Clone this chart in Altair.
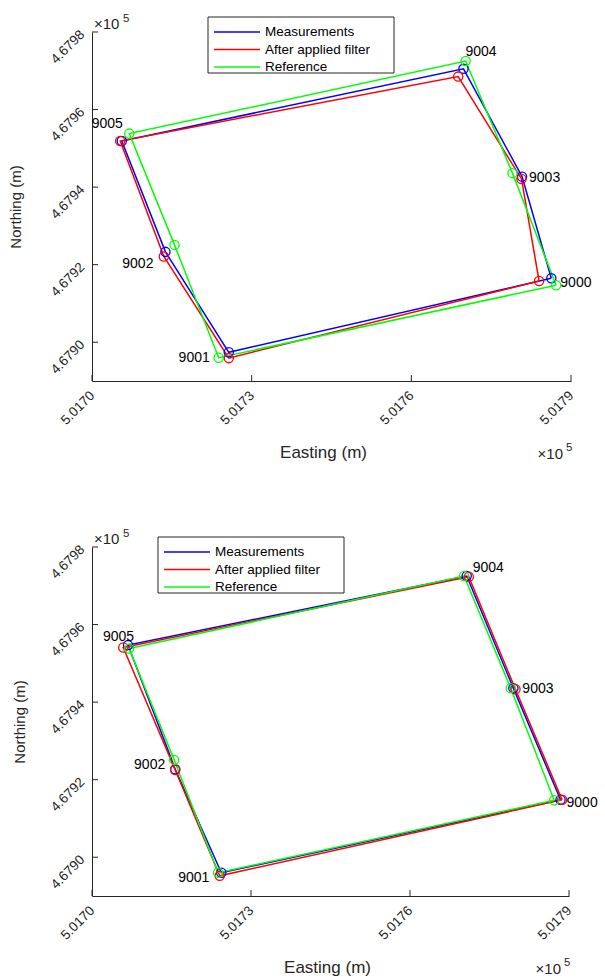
import altair as alt
import pandas as pd

# ---------------- data ----------------
STATIONS = ["9000", "9001", "9002", "9003", "9004", "9005"]
PATH = ["9000", "9001", "9002", "9005", "9004", "9003", "9000"]
SERIES = ["Measurements", "After applied filter", "Reference"]
COLORS = ["#0000ff", "#ff0000", "#00ff00"]

X_TICKS = [501700, 501730, 501760, 501790]
Y_TICKS = [467900, 467920, 467940, 467960, 467980]
X_DOMAIN = [501700, 501790]
Y_DOMAIN = [467890, 467980]

# reference coordinates (same in both panels)
ref_e = [501787.2, 501723.8, 501715.5, 501779.0, 501770.2, 501707.0]
ref_n = [467914.7, 467896.0, 467925.1, 467943.6, 467972.5, 467953.8]

# panel 1
p1_meas_e = [501786.3, 501725.7, 501713.8, 501780.8, 501769.8, 501705.6]
p1_meas_n = [467916.5, 467897.4, 467923.3, 467942.7, 467970.5, 467951.9]
p1_filt_e = [501784.0, 501725.7, 501713.5, 501780.7, 501768.8, 501705.3]
p1_filt_n = [467915.8, 467895.9, 467922.1, 467942.1, 467968.5, 467951.9]

# panel 2
p2_meas_e = [501788.4, 501724.4, 501715.7, 501779.5, 501770.7, 501706.8]
p2_meas_n = [467914.8, 467896.0, 467922.7, 467943.6, 467972.5, 467954.7]
p2_filt_e = [501788.7, 501724.1, 501715.7, 501779.9, 501771.1, 501705.9]
p2_filt_n = [467914.8, 467895.2, 467922.5, 467943.3, 467972.3, 467954.1]

# ---------------- styling ----------------
FONT = "Liberation Sans"
INK = "#262626"
LEGEND_W, LEGEND_H = 186, 56

# label placement (align, dx, dy) relative to the measured point
LABEL_PLACE_1 = {
    "9000": ("left", 9, 5), "9001": ("right", -19, 6), "9002": ("right", -12, 12),
    "9003": ("left", 7, 1), "9004": ("left", 2, -17), "9005": ("right", 1, -17),
}
LABEL_PLACE_2 = {
    "9000": ("left", 6, 3), "9001": ("right", -12, 5), "9002": ("right", -10, -4),
    "9003": ("left", 9, 1), "9004": ("left", 6, -8), "9005": ("right", 6, -8),
}


def build_table(meas_e, meas_n, filt_e, filt_n):
    rows = []
    for name, es, ns in [
        (SERIES[0], meas_e, meas_n),
        (SERIES[1], filt_e, filt_n),
        (SERIES[2], ref_e, ref_n),
    ]:
        lookup = dict(zip(STATIONS, zip(es, ns)))
        for i, st in enumerate(PATH):
            e, n = lookup[st]
            rows.append({"series": name, "station": st, "order": i, "E": e, "N": n})
    return pd.DataFrame(rows)


def panel(df, places, W, H, legend_x, legend_y, ytitle_pad, xtitle_x):
    xs = alt.Scale(domain=X_DOMAIN, nice=False, zero=False)
    ys = alt.Scale(domain=Y_DOMAIN, nice=False, zero=False)
    cs = alt.Scale(domain=SERIES, range=COLORS)

    X = alt.X("E:Q", scale=xs, axis=alt.Axis(
        values=X_TICKS, labelExpr="format(datum.value / 100000, '.4f')",
        labelAngle=-45, labelAlign="right", labelBaseline="middle",
        labelPadding=12, ticks=False, grid=False, title="Easting (m)",
        titleX=xtitle_x, titleY=71, titleBaseline="middle",
        labelFontSize=13.5, titleFontSize=17,
        titleFontWeight="normal", domainColor=INK, labelColor=INK,
        titleColor=INK, labelFont=FONT, titleFont=FONT))
    Y = alt.Y("N:Q", scale=ys, axis=alt.Axis(
        values=Y_TICKS, labelExpr="format(datum.value / 100000, '.4f')",
        labelAngle=-45, labelAlign="right", labelBaseline="middle",
        labelPadding=10, ticks=False, grid=False, title="Northing (m)",
        titlePadding=ytitle_pad, labelFontSize=13.5, titleFontSize=15,
        titleFontWeight="normal", domainColor=INK, labelColor=INK,
        titleColor=INK, labelFont=FONT, titleFont=FONT))

    base = alt.Chart(df)
    lines = base.mark_line(strokeWidth=1.5).encode(
        x=X, y=Y, order="order:Q",
        color=alt.Color("series:N", scale=cs, legend=alt.Legend(
            title=None, orient="none", legendX=legend_x, legendY=legend_y + 3.5,
            symbolType="M-2.56,0H2.56", symbolSize=324, symbolStrokeWidth=1.5,
            symbolOffset=17.5, labelOffset=18,
            labelFont=FONT, labelFontSize=13.5, labelColor="black",
            padding=1.5, rowPadding=0.5, labelLimit=500)),
    )
    pts = base.transform_filter("datum.order < 6").mark_point(
        shape="circle", filled=False, size=85, strokeWidth=1.3, opacity=1
    ).encode(x=X, y=Y, stroke=alt.Stroke("series:N", scale=cs, legend=None))

    layers = [lines, pts]

    meas = df[(df["series"] == SERIES[0]) & (df["order"] < 6)]
    for st in STATIONS:
        align, dx, dy = places[st]
        layers.append(
            alt.Chart(meas[meas["station"] == st]).mark_text(
                align=align, baseline="middle", dx=dx, dy=dy,
                font=FONT, fontSize=14, color="black"
            ).encode(x=X, y=Y, text="station:N")
        )

    xt = pd.DataFrame({"E": X_TICKS})
    yt = pd.DataFrame({"N": Y_TICKS})
    layers.append(alt.Chart(xt).mark_rule(color=INK, strokeWidth=1).encode(
        x=X, y=alt.value(H), y2=alt.value(H - 6)))
    layers.append(alt.Chart(yt).mark_rule(color=INK, strokeWidth=1).encode(
        y=Y, x=alt.value(0), x2=alt.value(6)))

    corner_tl = pd.DataFrame({"E": [X_DOMAIN[0]], "N": [Y_DOMAIN[1]]})
    corner_br = pd.DataFrame({"E": [X_DOMAIN[1]], "N": [Y_DOMAIN[0]]})
    layers.append(alt.Chart(corner_tl).mark_text(
        text="\u00d710", align="left", baseline="middle", dx=2, dy=-8,
        font=FONT, fontSize=15, color=INK).encode(x=X, y=Y))
    layers.append(alt.Chart(corner_tl).mark_text(
        text="5", align="left", baseline="middle", dx=31, dy=-13,
        font=FONT, fontSize=11.5, color=INK).encode(x=X, y=Y))
    layers.append(alt.Chart(corner_br).mark_text(
        text="\u00d710", align="right", baseline="middle", dx=-8, dy=73,
        font=FONT, fontSize=15, color=INK).encode(x=X, y=Y))
    layers.append(alt.Chart(corner_br).mark_text(
        text="5", align="left", baseline="middle", dx=-5, dy=67,
        font=FONT, fontSize=11.5, color=INK).encode(x=X, y=Y))

    # legend frame (opaque, like the MATLAB legend box)
    layers.append(alt.Chart(pd.DataFrame({"frame": [0]})).mark_rect(
        fill="white", stroke=INK, strokeWidth=1).encode(
        x=alt.value(legend_x), x2=alt.value(legend_x + LEGEND_W),
        y=alt.value(legend_y), y2=alt.value(legend_y + LEGEND_H)))

    return alt.layer(*layers).properties(width=W, height=H)


df1 = build_table(p1_meas_e, p1_meas_n, p1_filt_e, p1_filt_n)
df2 = build_table(p2_meas_e, p2_meas_n, p2_filt_e, p2_filt_n)

top = panel(df1, LABEL_PLACE_1, 479, 349, 116, -15, 24.5, 231)
bottom = panel(df2, LABEL_PLACE_2, 477, 349, 66, -10, 20, 235)

chart = alt.vconcat(top, bottom, spacing=66).resolve_scale(
    color="independent", stroke="independent"
).properties(
    padding={"left": 8, "top": 13, "right": 0, "bottom": 0},
    background="white",
).configure_view(strokeWidth=0)

chart.save("out.html", embed_options={"renderer": "svg", "actions": False})
